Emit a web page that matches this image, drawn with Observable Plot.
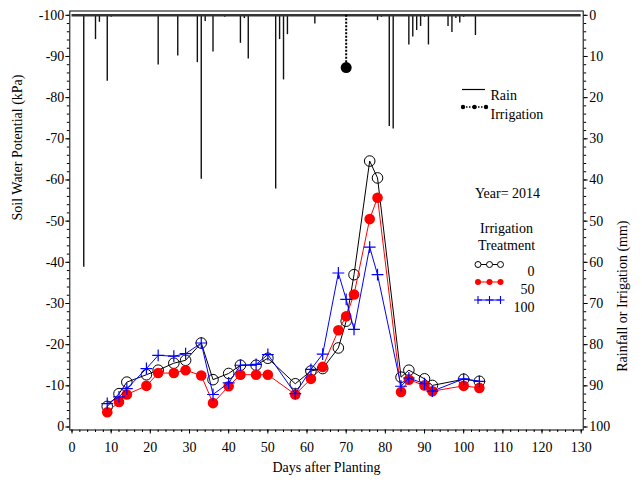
<!DOCTYPE html>
<html><head><meta charset="utf-8">
<script src="https://cdn.jsdelivr.net/npm/d3@7"></script>
<script src="https://cdn.jsdelivr.net/npm/@observablehq/plot@0.6"></script>
<style>
body{margin:0;background:#fff;}
svg{display:block}
</style>
</head><body><div id="chart"></div>
<script>
// Soil water potential sampling days and values (kPa) per irrigation treatment
const days   = [9,12,14,19,22,26,29,33,36,40,43,47,50,57,61,64,68,70,72,76,78,84,86,90,92,100,104];
const swp0   = [-5.0,-8.1,-10.9,-12.7,-13.8,-15.5,-16.2,-20.4,-11.5,-13.0,-15.0,-15.0,-16.7,-10.5,-13.6,-14.2,-19.2,-25.7,-37.0,-64.6,-60.5,-12.1,-13.8,-11.7,-10.1,-11.6,-11.1];
const swp50  = [-3.6,-6.1,-7.9,-10.0,-13.1,-13.1,-13.8,-12.5,-5.8,-9.9,-12.7,-12.7,-12.7,-7.9,-11.7,-14.6,-23.5,-26.9,-32.2,-50.5,-55.7,-8.5,-11.5,-10.1,-8.7,-10.0,-9.5];
const swp100 = [-5.7,-7.3,-9.3,-14.2,-17.4,-17.2,-17.8,-20.4,-7.9,-10.7,-15.0,-15.2,-17.6,-8.1,-14.0,-17.7,-37.4,-31.0,-23.7,-43.7,-37.0,-9.9,-11.9,-10.5,-8.7,-11.7,-11.1];
// Rainfall (mm) by day
const rainDays = [3,6,7,9,10,22,27,32,33,34,36,39,43,44,45,52,53,54,55,62,78,79,81,82,86,87,88,89,90,91,96,97,98,99,100,103,104];
const rainMm   = [61.2,5.9,1.7,16.0,0.5,12.1,9.9,11.5,39.8,1.5,8.9,0.5,6.8,0.8,10.6,42.2,5.9,15.7,4.7,2.1,1.3,0.5,27.0,27.6,7.2,5.3,3.7,2.7,0.5,7.2,2.7,4.2,0.8,1.9,0.5,4.9,0.3];
// Irrigation (mm)
const irrDays = [70];
const irrMm   = [12.7];
// Ticks
const xTicks = d3.range(0, 131, 10);
const xMinor = d3.range(0, 131, 2);
const yTicks = d3.range(-100, 1, 10);
const yMinor = d3.range(-100, 1, 2);
const treatments = ["0", "50", "100"];

const xDomain = [0, 130];
const rainTop = -100; // rain 0 mm sits at the top of the kPa axis
const toY = mm => rainTop + mm;

const s0 = days.map((d, i) => ({day: d, v: swp0[i]}));
const s50 = days.map((d, i) => ({day: d, v: swp50[i]}));
const s100 = days.map((d, i) => ({day: d, v: swp100[i]}));
const rain = rainDays.map((d, i) => ({day: d, mm: rainMm[i]}));
const irr = irrDays.map((d, i) => ({day: d, mm: irrMm[i]}));

const F = "Liberation Serif";
const txt = (s, dx, dy, anchor) => Plot.text([s], {frameAnchor: "top-left", dx, dy, textAnchor: anchor, fontSize: 14, fontFamily: F, fill: "black"});

const chart = Plot.plot({
  width: 642, height: 487,
  marginLeft: 69.3, marginRight: 59.3, marginTop: 10.5, marginBottom: 57.5,
  x: {domain: xDomain, insetLeft: 2.2, insetRight: 2},
  y: {domain: [0, -100], insetTop: 4.3, insetBottom: 3},
  style: {fontFamily: F, fontSize: "14px", color: "black", background: "white"},
  marks: [
    Plot.ruleX(rain, {x: "day", y1: rainTop, y2: d => toY(d.mm), stroke: "#111", strokeWidth: 1.4}),
    Plot.ruleY([rainTop], {x1: xDomain[0], x2: xDomain[1], stroke: "#333", strokeWidth: 2.5}),
    Plot.ruleX(irr, {x: "day", y1: rainTop, y2: d => toY(d.mm), stroke: "black", strokeWidth: 2, strokeDasharray: "2,1.5"}),
    Plot.dot(irr, {x: "day", y: d => toY(d.mm), r: 5.5, fill: "black"}),
    Plot.line(s0, {x: "day", y: "v", stroke: "black", strokeWidth: 1}),
    Plot.dot(s0, {x: "day", y: "v", r: 5.3, stroke: "black", fill: "none", strokeWidth: 1}),
    Plot.line(s50, {x: "day", y: "v", stroke: "red", strokeWidth: 1}),
    Plot.dot(s50, {x: "day", y: "v", r: 5.3, fill: "red"}),
    Plot.line(s100, {x: "day", y: "v", stroke: "blue", strokeWidth: 1}),
    Plot.dot(s100, {x: "day", y: "v", symbol: "plus", r: 3.9, stroke: "blue", strokeWidth: 1.2}),
    Plot.frame({stroke: "black", strokeWidth: 1}),
    Plot.axisX({ticks: xTicks, tickSize: 4, tickPadding: 8, tickFormat: d => String(d), label: null, fontSize: 14, fontFamily: F}),
    Plot.axisX({ticks: xMinor, tickSize: 2.5, tickFormat: () => "", label: null}),
    Plot.axisY({ticks: yTicks, tickSize: 4, tickPadding: 1.5, tickFormat: d => String(d), label: null, fontSize: 14, fontFamily: F}),
    Plot.axisY({ticks: yMinor, tickSize: 2.5, tickFormat: () => "", label: null}),
    Plot.axisY({anchor: "right", ticks: yTicks, tickSize: 4, tickPadding: 2, tickFormat: d => String(d - rainTop), label: null, fontSize: 14, fontFamily: F}),
    Plot.axisY({anchor: "right", ticks: yMinor, tickSize: 2.5, tickFormat: () => "", label: null}),
    Plot.text(["Soil Water Potential (kPa)"], {frameAnchor: "left", dx: -52.3, rotate: -90, fontSize: 14, fontFamily: F, fill: "black"}),
    Plot.text(["Rainfall or Irrigation (mm)"], {frameAnchor: "right", dx: 39, rotate: -90, fontSize: 14, fontFamily: F, fill: "black"}),
    Plot.text(["Days after Planting"], {frameAnchor: "bottom", dy: 41.5, fontSize: 14, fontFamily: F, fill: "black"}),
    txt("Rain", 420.7, 79.5, "start"),
    txt("Irrigation", 420.7, 98, "start"),
    txt("Year= 2014", 437.7, 177, "middle"),
    txt("Irrigation", 436.7, 212.5, "middle"),
    txt("Treatment", 436.7, 229, "middle"),
    txt(treatments[0], 464.7, 255, "end"),
    txt(treatments[1], 464.7, 272.8, "end"),
    txt(treatments[2], 464.7, 291.2, "end")
  ]
});
document.getElementById("chart").appendChild(chart);

// Legend symbols
const svg = d3.select(chart);
const g = svg.append("g");
g.append("line").attr("x1", 462).attr("x2", 485).attr("y1", 89.5).attr("y2", 89.5).attr("stroke", "black").attr("stroke-width", 1.2);
g.append("line").attr("x1", 463).attr("x2", 486).attr("y1", 107).attr("y2", 107).attr("stroke", "black").attr("stroke-width", 1.3).attr("stroke-dasharray", "1.5,1.5");
[463, 474.5, 486].forEach(cx => g.append("circle").attr("cx", cx).attr("cy", 107).attr("r", 2.2).attr("fill", "black"));
const rows = [264.5, 282, 300];
const cols = [478, 489.5, 500.5];
const lc = ["black", "red", "blue"];
rows.forEach((ry, k) => {
  g.append("line").attr("x1", 477.5).attr("x2", 500.5).attr("y1", ry).attr("y2", ry).attr("stroke", lc[k]).attr("stroke-width", 1);
  cols.forEach(cx => {
    if (k === 0) g.append("circle").attr("cx", cx).attr("cy", ry).attr("r", 3).attr("fill", "white").attr("stroke", "black").attr("stroke-width", 1);
    else if (k === 1) g.append("circle").attr("cx", cx).attr("cy", ry).attr("r", 3).attr("fill", "red");
    else g.append("path").attr("d", `M${cx-4},${ry}H${cx+4}M${cx},${ry-4}V${ry+4}`).attr("stroke", "blue").attr("stroke-width", 1.1);
  });
});
</script></body></html>
